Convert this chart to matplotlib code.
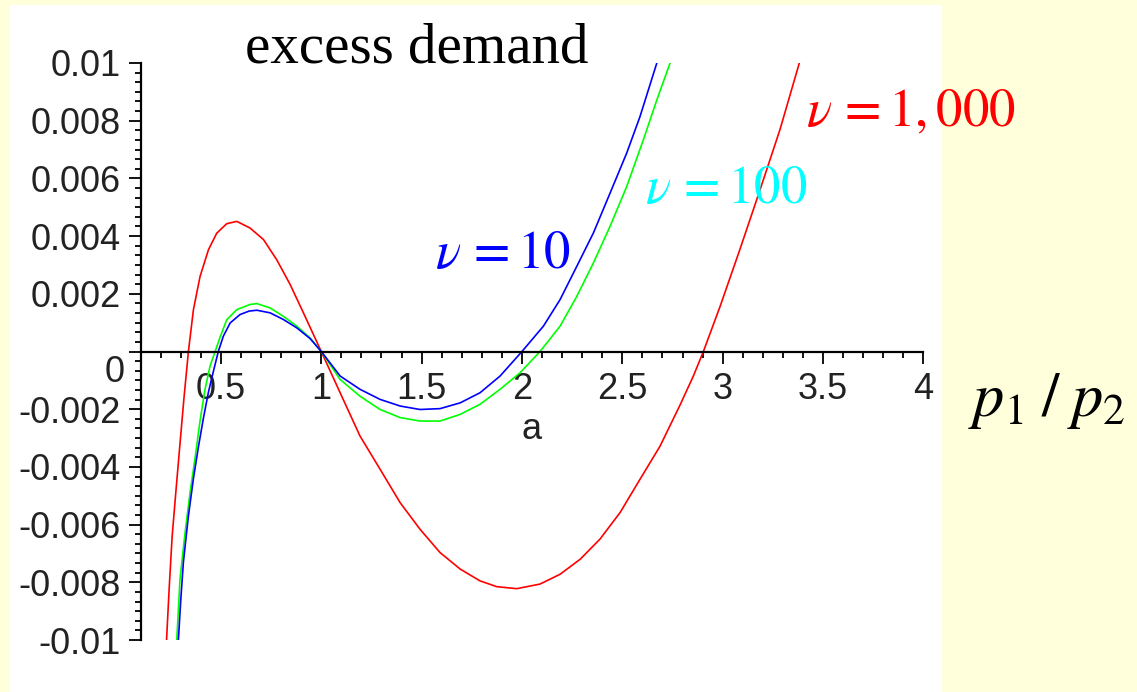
import numpy as np
import matplotlib
matplotlib.use("Agg")
import matplotlib.pyplot as plt
from matplotlib.patches import Rectangle
from matplotlib.ticker import MultipleLocator

plt.rcParams['mathtext.fontset'] = 'stix'

# excess demand curves for three values of nu
red_x = [0.229, 0.243, 0.257, 0.275, 0.296, 0.316, 0.338, 0.363, 0.396, 0.438, 0.479, 0.529,
         0.579, 0.645, 0.712, 0.778, 0.845, 0.911, 1.0, 1.094, 1.193, 1.293, 1.393, 1.492,
         1.592, 1.692, 1.791, 1.874, 1.974, 2.09, 2.19, 2.29, 2.389, 2.489, 2.588, 2.688,
         2.788, 2.854, 2.904, 2.987, 3.087, 3.186, 3.286, 3.382]
red_y = [-0.0100, -0.0081, -0.0064, -0.0049, -0.0032, -0.0016, 0.0, 0.00145, 0.0026, 0.00353,
         0.0041, 0.00443, 0.00451, 0.00428, 0.00388, 0.00318, 0.00232, 0.00134, 0.0, -0.00143,
         -0.00293, -0.00408, -0.00524, -0.00616, -0.00697, -0.00754, -0.00795, -0.00815,
         -0.00822, -0.00806, -0.00772, -0.0072, -0.0065, -0.00558, -0.00443, -0.00328,
         -0.00185, -0.00085, 0.0, 0.00156, 0.00356, 0.0056, 0.0077, 0.0100]

blue_x = [0.288, 0.300, 0.313, 0.338, 0.363, 0.388, 0.413, 0.438, 0.462, 0.487, 0.512, 0.546,
          0.595, 0.640, 0.679, 0.745, 0.811, 0.878, 0.944, 1.0, 1.094, 1.193, 1.293, 1.393,
          1.492, 1.592, 1.692, 1.791, 1.891, 2.0, 2.107, 2.19, 2.273, 2.356, 2.439, 2.522,
          2.588, 2.672]
blue_y = [-0.0100, -0.0086, -0.0073, -0.0057, -0.0044, -0.0033, -0.0023, -0.0014, -0.0007, 0.0,
          0.00053, 0.00099, 0.00128, 0.0014, 0.00143, 0.00134, 0.00111, 0.00082, 0.00045, 0.0,
          -0.00085, -0.00131, -0.00166, -0.00189, -0.00201, -0.00198, -0.00178, -0.00143,
          -0.00085, 0.0, 0.00088, 0.0018, 0.00295, 0.00411, 0.00549, 0.00688, 0.00814, 0.0100]

green_x = [0.280, 0.296, 0.321, 0.346, 0.371, 0.396, 0.421, 0.446, 0.471, 0.496, 0.529, 0.579,
           0.645, 0.679, 0.745, 0.811, 0.878, 0.944, 1.0, 1.094, 1.193, 1.293, 1.393, 1.492,
           1.592, 1.692, 1.791, 1.891, 1.99, 2.09, 2.19, 2.273, 2.356, 2.439, 2.522, 2.605,
           2.672, 2.738]
green_y = [-0.0100, -0.0079, -0.0063, -0.0049, -0.0037, -0.0024, -0.0013, -0.0005, 0.0, 0.0005,
           0.0011, 0.00145, 0.00163, 0.00166, 0.00151, 0.00122, 0.00088, 0.00047, 0.0, -0.00097,
           -0.00155, -0.00201, -0.00229, -0.00241, -0.00241, -0.00218, -0.00183, -0.00131,
           -0.00074, 0.0, 0.00088, 0.00191, 0.00307, 0.00434, 0.00572, 0.00734, 0.00872, 0.0100]

xticks = [0.5, 1.0, 1.5, 2.0, 2.5, 3.0, 3.5, 4.0]
xtick_labels = ['0.5', '1', '1.5', '2', '2.5', '3', '3.5', '4']
yticks = [-0.01, -0.008, -0.006, -0.004, -0.002, 0.0, 0.002, 0.004, 0.006, 0.008, 0.01]
ytick_labels = ['-0.01', '-0.008', '-0.006', '-0.004', '-0.002', '',
                '0.002', '0.004', '0.006', '0.008', '0.01']

fig = plt.figure(figsize=(11.37, 6.92), dpi=100, facecolor='#FFFFDC')
# white plotting card on the yellow slide
fig.patches.append(Rectangle((10 / 1137, 0), 932 / 1137, 687 / 692,
                             transform=fig.transFigure, facecolor='white',
                             edgecolor='none', zorder=-5))

ax = fig.add_axes([0.1237, 0.0751, 0.6884, 0.8339])
ax.set_facecolor('none')

ax.plot(red_x, red_y, color='#FF0000', lw=1.2)
ax.plot(green_x, green_y, color='#00FF00', lw=1.2)
ax.plot(blue_x, blue_y, color='#0000FF', lw=1.2)

ax.set_xlim(0.1, 4.0)
ax.set_ylim(-0.01, 0.01)

for s in ['top', 'right']:
    ax.spines[s].set_visible(False)
ax.spines['bottom'].set_position(('data', 0))
ax.spines['bottom'].set_linewidth(1.6)
ax.spines['left'].set_linewidth(1.6)

tick_font = dict(family='Liberation Sans', size=26, color='#222222')
ax.set_xticks(xticks)
ax.set_xticklabels(xtick_labels, **tick_font)
ax.set_yticks(yticks)
ax.set_yticklabels(ytick_labels, **tick_font)
ax.xaxis.set_minor_locator(MultipleLocator(0.1))
ax.yaxis.set_minor_locator(MultipleLocator(0.002 / 6))
ax.tick_params(which='major', direction='out', length=8.5, width=1.3, pad=6)
ax.tick_params(which='minor', direction='out', length=4.2, width=1.3)

# the zero label sits below the horizontal axis
ax.annotate('0', xy=(0.1, 0.0), xytext=(-16, -21), textcoords='offset pixels',
            ha='right', va='center', **tick_font)
ax.text(2.05, -0.0027, 'a', ha='center', va='center', **tick_font)

ax.text(1.477, 0.01003, 'excess demand', family='Liberation Serif', size=41,
        color='black', ha='center', va='baseline')
ax.text(1.567, 0.00291, r'$\nu\,=10$', size=38, color='#0000FF', va='baseline')
ax.text(2.613, 0.00516, r'$\nu\,=100$', size=38, color='#00FFFF', va='baseline')
ax.text(3.416, 0.00779, r'$\nu\,=1,000$', size=38, color='#FF0000', va='baseline')
ax.text(4.223, -0.00225, r'$p_{\mathrm{1}}\;/\;p_{\mathrm{2}}$', size=45,
        color='black', va='baseline')

fig.savefig('out.png', dpi=100, facecolor=fig.get_facecolor())
